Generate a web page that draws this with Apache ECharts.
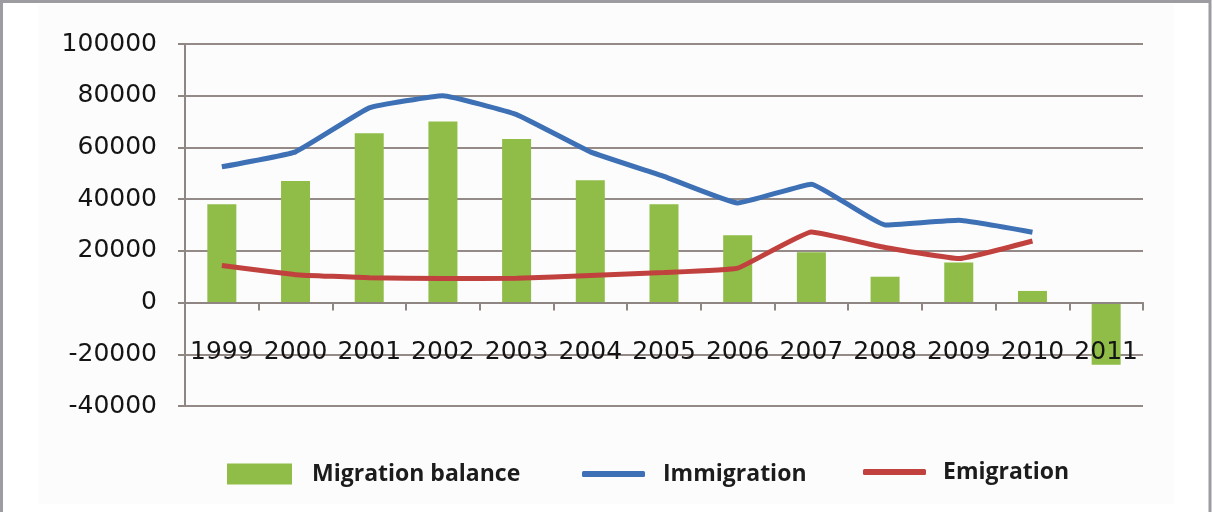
<!DOCTYPE html>
<html>
<head>
<meta charset="utf-8">
<script src="https://cdn.jsdelivr.net/npm/echarts@6/dist/echarts.min.js"></script>
<style>
  html, body { margin: 0; padding: 0; background: #ffffff; }
  #chart { width: 1212px; height: 512px; }
</style>
</head>
<body>
<div id="chart"></div>
<script>
// Migration flows by year
const years = ['1999', '2000', '2001', '2002', '2003', '2004', '2005', '2006', '2007', '2008', '2009', '2010', '2011'];
const migrationBalance = [38000, 47000, 65500, 70000, 63300, 47300, 38000, 26000, 19500, 10000, 15500, 4500, -24000];
const immigration = [52500, 58300, 75300, 80000, 72700, 58300, 48800, 38500, 45800, 30000, 31800, 27200, null];
const emigration = [14300, 10800, 9600, 9300, 9400, 10500, 11600, 13300, 27300, 21300, 17000, 23800, null];
const yTicks = { min: -40000, max: 100000, interval: 20000 };

const colors = { bar: '#8fbd48', immigration: '#3d70b5', emigration: '#c0413e' };
const legendFont = { fontFamily: 'Open Sans', fontWeight: 'bold', fontSize: 23, lineHeight: 24, color: '#1c1c1c' };

const chart = echarts.init(document.getElementById('chart'), null, { renderer: 'canvas' });

chart.setOption({
  animation: false,
  backgroundColor: '#ffffff',
  graphic: [
    { type: 'rect', z: -10, shape: { x: 38, y: 4, width: 1136, height: 500 }, style: { fill: '#fcfcfc' } },
    { type: 'rect', z: 100, shape: { x: 1.5, y: 1.5, width: 1208.5, height: 530 }, style: { fill: 'none', stroke: '#9c9ca1', lineWidth: 3 } }
  ],
  grid: { left: 185, right: 69, top: 44, bottom: 106, containLabel: false },
  legend: [
    {
      left: 222, top: 457, itemWidth: 65, itemHeight: 21, icon: 'rect',
      data: ['Migration balance'],
      textStyle: Object.assign({ padding: [0, 0, 0, 15] }, legendFont)
    },
    {
      left: 577, top: 457, itemWidth: 63, itemHeight: 6, icon: 'roundRect',
      data: ['Immigration'],
      textStyle: Object.assign({ padding: [0, 0, 0, 13] }, legendFont)
    },
    {
      left: 858, top: 455, itemWidth: 63, itemHeight: 6, icon: 'roundRect',
      data: ['Emigration'],
      textStyle: Object.assign({ padding: [0, 0, 0, 12] }, legendFont)
    }
  ],
  xAxis: {
    type: 'category',
    data: years,
    boundaryGap: true,
    z: 5,
    axisLine: { onZero: true, lineStyle: { color: '#8f8684', width: 2 } },
    axisTick: { show: true, length: 8, alignWithLabel: false, lineStyle: { color: '#8f8684', width: 2 } },
    // labels sit just below the zero line, across the -20000 gridline
    axisLabel: { margin: -66, fontFamily: 'DejaVu Sans', fontSize: 25, color: '#141414', interval: 0 },
    splitLine: { show: false }
  },
  yAxis: {
    type: 'value',
    min: yTicks.min,
    max: yTicks.max,
    interval: yTicks.interval,
    axisLine: { show: true, lineStyle: { color: '#8f8684', width: 2 } },
    axisTick: { show: true, length: 7, lineStyle: { color: '#8f8684', width: 2 } },
    axisLabel: { margin: 28, fontFamily: 'DejaVu Sans', fontSize: 25, color: '#141414', formatter: v => String(v) },
    splitLine: { show: true, lineStyle: { color: '#948b89', width: 2 } }
  },
  series: [
    {
      name: 'Migration balance',
      type: 'bar',
      data: migrationBalance,
      barWidth: 29,
      itemStyle: { color: colors.bar },
      z: 2
    },
    {
      name: 'Immigration',
      type: 'line',
      data: immigration,
      smooth: 0.1,
      showSymbol: false,
      symbol: 'none',
      lineStyle: { width: 5, color: colors.immigration },
      itemStyle: { color: colors.immigration },
      z: 3
    },
    {
      name: 'Emigration',
      type: 'line',
      data: emigration,
      smooth: 0.1,
      showSymbol: false,
      symbol: 'none',
      lineStyle: { width: 5, color: colors.emigration },
      itemStyle: { color: colors.emigration },
      z: 3
    }
  ]
});
</script>
</body>
</html>
